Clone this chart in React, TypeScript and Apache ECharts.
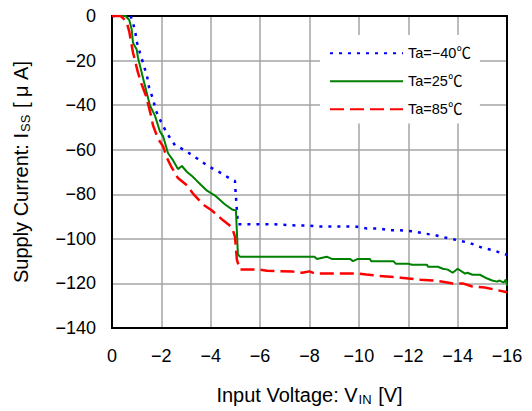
import React, { useEffect, useRef } from "react";
import * as echarts from "echarts";

// Supply current vs. input voltage at three ambient temperatures
const seriesNames = ["Ta=−40℃", "Ta=25℃", "Ta=85℃"];

const vinCold = [0, -0.7, -0.77, -0.93, -1.0, -1.13, -1.42, -1.5, -1.66, -1.78, -1.98, -2.23, -2.55, -2.96, -3.48, -3.89, -4.4, -4.86, -4.98, -5.0, -5.06, -5.1, -5.5, -6.07, -6.6, -7.5, -7.8, -8.4, -9.84, -10.3, -10.8, -11.2, -11.66, -12.2, -12.6, -13.1, -13.6, -14.0, -14.5, -15.0, -15.4, -16];
const issCold = [0, 0, -0.4, -6.2, -11.5, -16.4, -27, -32, -37.2, -42.5, -47.4, -52.7, -58, -60.3, -64.2, -67.3, -70.4, -73.5, -74, -78, -87.3, -93.5, -93.5, -93.5, -93.5, -94, -94, -94.4, -94.4, -95.3, -95.3, -96.1, -96.1, -96.6, -97.5, -98.4, -99.7, -100.6, -101.9, -104, -105, -107.2];

const vinRoom = [0, -0.55, -0.7, -0.8, -0.85, -1.0, -1.05, -1.2, -1.34, -1.54, -1.74, -1.94, -2.07, -2.27, -2.47, -2.67, -2.83, -3.04, -3.24, -3.44, -3.85, -4.17, -4.58, -4.86, -5.02, -5.1, -5.18, -6.0, -7.6, -8.2, -8.3, -8.7, -8.9, -9.64, -9.76, -9.96, -10.45, -10.5, -11.4, -11.5, -12.0, -12.15, -12.76, -12.8, -13.2, -13.4, -13.6, -13.8, -14.0, -14.3, -14.4, -14.6, -14.9, -15.2, -15.4, -15.6, -15.7, -15.87, -15.95, -16];
const issRoom = [0, 0, -1.8, -6.2, -12, -15, -18.6, -25.3, -31.5, -40.3, -44.7, -51.8, -54, -61.6, -64.7, -68.7, -67.3, -70, -71.8, -74, -78.4, -80.6, -84.6, -86.8, -87.3, -107, -108, -108, -108, -108, -109, -108, -109, -109, -110, -109, -109, -110, -110, -111.2, -111.2, -111.6, -111.6, -112.5, -112.5, -113.4, -113.8, -115.2, -113.4, -115.6, -115.2, -116.1, -116.1, -117.8, -118.7, -119.2, -118.7, -119.6, -118.3, -121];

const vinHot = [0, -0.35, -0.53, -0.6, -0.7, -0.77, -0.85, -1.05, -1.2, -1.38, -1.58, -1.66, -1.86, -2.07, -2.23, -2.43, -2.67, -3.04, -3.28, -3.69, -4.05, -4.5, -4.86, -4.98, -5.06, -5.18, -5.67, -6.0, -6.28, -7.33, -7.7, -8.0, -8.2, -9.96, -10.3, -10.7, -11.7, -12.5, -13.0, -13.4, -13.8, -14.2, -14.6, -15.1, -15.6, -16];
const issHot = [0, 0, -1.8, -3, -7, -11.5, -16.4, -25.3, -30.6, -35.9, -44.7, -49, -55, -58.5, -63.8, -68.2, -72.7, -76, -79.7, -84.6, -87.3, -91.7, -94.8, -99, -109.4, -113.8, -113.8, -113.8, -114.3, -114.7, -115.2, -114.6, -115.5, -115.5, -116, -116.5, -117.4, -118.3, -118.7, -119.2, -120, -120, -121.4, -121.8, -123, -124];

const xTickStep = 2;
const yTickStep = 20;

const FONT = "'Liberation Sans', Arial, 'Noto Sans CJK JP', sans-serif";

const pairs = (xs: number[], ys: number[]) => xs.map((x, i) => [x, ys[i]]);
const minusLabel = (v: number) => (v === 0 ? "0" : "−" + Math.abs(v));

const nameRich = {
  t: { fontSize: 20, color: "#000", fontFamily: FONT, lineHeight: 22 },
  s: { fontSize: 13, color: "#000", fontFamily: FONT, lineHeight: 22, padding: [9, 1, 0, 1] },
};

export default function App() {
  const ref = useRef<HTMLDivElement>(null);

  useEffect(() => {
    if (!ref.current) return;
    const chart = echarts.init(ref.current, undefined, { renderer: "svg" });
    chart.setOption({
      animation: false,
      backgroundColor: "#fff",
      textStyle: { fontFamily: FONT },
      grid: {
        left: 112,
        top: 16,
        right: 25,
        bottom: 79,
        show: true,
        borderColor: "#000",
        borderWidth: 2,
        backgroundColor: "transparent",
        z: 3,
      },
      legend: {
        orient: "vertical",
        left: 320,
        top: 35,
        padding: [11, 9, 7, 9],
        backgroundColor: "#fff",
        itemWidth: 73,
        itemHeight: 14,
        itemGap: 13.5,
        itemStyle: { opacity: 0 },
        textStyle: { fontSize: 14.5, color: "#000", fontFamily: FONT },
        data: seriesNames,
      },
      xAxis: {
        type: "value",
        min: -16,
        max: 0,
        interval: xTickStep,
        inverse: true,
        axisLine: { show: false },
        axisTick: { show: false },
        splitLine: { lineStyle: { color: "#a4a4a4", width: 1.5 } },
        axisLabel: {
          formatter: minusLabel,
          fontSize: 18,
          color: "#000",
          margin: 19,
          fontFamily: FONT,
        },
        name: "{t|Input Voltage: V}{s|IN}{t| [V]}",
        nameLocation: "middle",
        nameGap: 56,
        nameTextStyle: { rich: nameRich },
      },
      yAxis: {
        type: "value",
        min: -140,
        max: 0,
        interval: yTickStep,
        axisLine: { show: false },
        axisTick: { show: false },
        splitLine: { lineStyle: { color: "#a4a4a4", width: 1.5 } },
        axisLabel: {
          formatter: minusLabel,
          fontSize: 18,
          color: "#000",
          margin: 16,
          fontFamily: FONT,
        },
        name: "{t|Supply Current: I}{s|SS}{t| [ μ A]}",
        nameLocation: "middle",
        nameGap: 80,
        nameRotate: 90,
        nameTextStyle: { rich: nameRich },
      },
      series: [
        {
          name: seriesNames[0],
          type: "line",
          symbol: "none",
          z: 4,
          data: pairs(vinCold, issCold),
          lineStyle: { color: "#0000ff", width: 2.5, type: [3, 6] },
          itemStyle: { color: "#0000ff" },
        },
        {
          name: seriesNames[1],
          type: "line",
          symbol: "none",
          z: 4,
          data: pairs(vinRoom, issRoom),
          lineStyle: { color: "#008000", width: 2 },
          itemStyle: { color: "#008000" },
        },
        {
          name: seriesNames[2],
          type: "line",
          symbol: "none",
          z: 4,
          data: pairs(vinHot, issHot),
          lineStyle: { color: "#ff0000", width: 2.5, type: [14, 6] },
          itemStyle: { color: "#ff0000" },
        },
      ],
    });
    return () => chart.dispose();
  }, []);

  return (
    <div
      ref={ref}
      style={{ position: "absolute", left: 0, top: 0, width: 532, height: 411, background: "#fff" }}
    />
  );
}
